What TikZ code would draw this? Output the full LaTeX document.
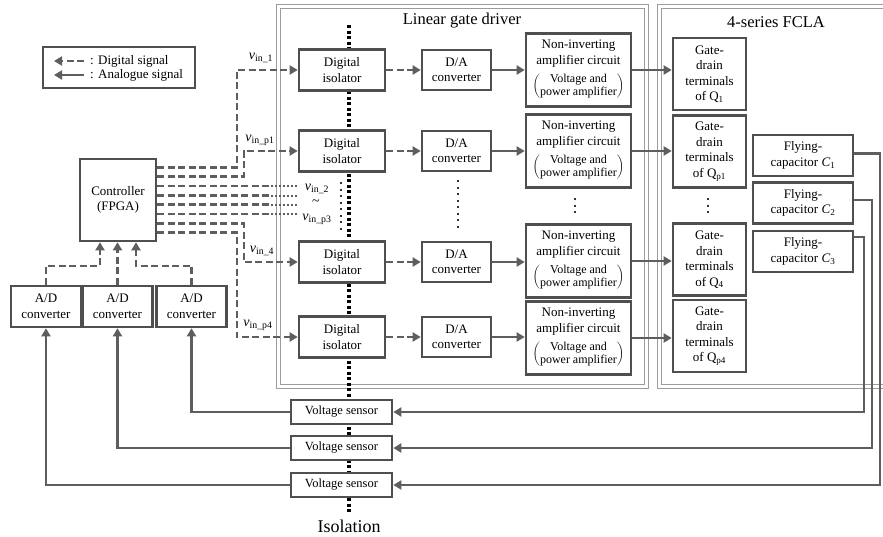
\documentclass[tikz,border=0pt]{standalone}
\usepackage{fontspec}
\setmainfont{Liberation Serif}
\usetikzlibrary{arrows.meta}
\definecolor{linegray}{HTML}{5E5E5E}
\definecolor{boxgray}{HTML}{4F4F4F}
\definecolor{framegray}{HTML}{9C9C9C}
\tikzset{
  blk/.style={draw=boxgray,line width=2.6pt,fill=white,align=center,inner sep=0pt,
    font=\fontsize{13}{15.5}\selectfont},
  dig/.style={draw=linegray,line width=2.3pt,dash pattern=on 7pt off 3.5pt,
    -{Triangle[length=8pt,width=9pt]}},
  ana/.style={draw=linegray,line width=2.3pt,-{Triangle[length=8pt,width=9pt]}},
  frame/.style={draw=framegray,double,double distance=2.4pt,line width=1pt},
  isoline/.style={line width=4pt,dash pattern=on 3pt off 2.5pt},
  ellip/.style={draw=black!80,line width=2pt,dash pattern=on 2pt off 4.5pt},
  fine/.style={draw=linegray,line width=2pt,dash pattern=on 1.5pt off 2.5pt},
  lbl/.style={inner sep=0pt,font=\fontsize{14}{14}\selectfont}
}
\newcommand{\ampbox}{Non-inverting\\amplifier circuit\\[4.5pt]
  {\fontsize{12}{13.5}\selectfont$\biggl(\begin{tabular}{@{}c@{}}Voltage and\\power amplifier\end{tabular}\biggr)$}}
\begin{document}
\begin{tikzpicture}[x=1pt,y=-1pt]
\useasboundingbox (0,0) rectangle (883,536);
% outer frames
\draw[frame] (278.5,6.5) rectangle (646.5,386.5);
\draw[frame] (659.5,6.5) rectangle (892,386.5);
\node[font=\fontsize{16.5}{17}\selectfont] (lgd) at (462,21) {Linear gate driver};
\node[font=\fontsize{16.5}{17}\selectfont] (fcla) at (776,22) {4-series FCLA};
% isolation barrier
\draw[isoline] (349,25) -- (349,514);
\node[font=\fontsize{18}{18}\selectfont] (isol) at (349,526) {Isolation};
% legend
\node[blk,minimum width=152pt,minimum height=41pt] (legend) at (119,67.5) {};
\node[anchor=west,inner sep=1pt,font=\fontsize{13}{13}\selectfont] (txd) at (89,61) {: Digital signal};
\node[anchor=west,inner sep=1pt,font=\fontsize{13}{13}\selectfont] (txa) at (89,75) {: Analogue signal};
\draw[dig] ([xshift=-5pt]txd.west) -- ++(-30,0);
\draw[ana] ([xshift=-5pt]txa.west) -- ++(-30,0);
% controller and A/D converters
\node[blk,minimum width=76pt,minimum height=82pt] (ctrl) at (118,200) {Controller\\(FPGA)};
\node[blk,minimum width=70pt,minimum height=41pt] (ad1) at (46,306.5) {A/D\\converter};
\node[blk,minimum width=70pt,minimum height=41pt] (ad2) at (117.5,306.5) {A/D\\converter};
\node[blk,minimum width=70pt,minimum height=41pt] (ad3) at (191.5,306.5) {A/D\\converter};
% digital isolators
\node[blk,minimum width=86pt,minimum height=41pt] (iso1) at (342,70) {Digital\\isolator};
\node[blk,minimum width=86pt,minimum height=41pt] (iso2) at (342,151) {Digital\\isolator};
\node[blk,minimum width=86pt,minimum height=41pt] (iso3) at (342,262) {Digital\\isolator};
\node[blk,minimum width=86pt,minimum height=41pt] (iso4) at (342,337) {Digital\\isolator};
% D/A converters
\node[blk,minimum width=69pt,minimum height=40pt] (da1) at (456.5,70) {D/A\\converter};
\node[blk,minimum width=69pt,minimum height=40pt] (da2) at (456.5,151) {D/A\\converter};
\node[blk,minimum width=69pt,minimum height=40pt] (da3) at (456.5,262) {D/A\\converter};
\node[blk,minimum width=69pt,minimum height=40pt] (da4) at (456.5,337) {D/A\\converter};
% amplifiers
\node[blk,minimum width=105pt,minimum height=73pt] (amp1) at (578.5,70) {\ampbox};
\node[blk,minimum width=105pt,minimum height=73pt] (amp2) at (578.5,151) {\ampbox};
\node[blk,minimum width=105pt,minimum height=73pt] (amp3) at (578.5,261) {\ampbox};
\node[blk,minimum width=105pt,minimum height=73pt] (amp4) at (578.5,338) {\ampbox};
% gate-drain terminals
\node[blk,minimum width=73pt,minimum height=72pt] (gd1) at (709.5,74) {Gate-\\drain\\terminals\\of Q\textsubscript{1}};
\node[blk,minimum width=73pt,minimum height=72pt] (gd2) at (709.5,151.5) {Gate-\\drain\\terminals\\of Q\textsubscript{p1}};
\node[blk,minimum width=73pt,minimum height=72pt] (gd3) at (709.5,259.5) {Gate-\\drain\\terminals\\of Q\textsubscript{4}};
\node[blk,minimum width=73pt,minimum height=72pt] (gd4) at (709.5,336) {Gate-\\drain\\terminals\\of Q\textsubscript{p4}};
% flying capacitors
\node[blk,minimum width=100pt,minimum height=41pt] (fc1) at (803,155.5) {Flying-\\capacitor \textit{C}\textsubscript{1}};
\node[blk,minimum width=100pt,minimum height=41pt] (fc2) at (803,203) {Flying-\\capacitor \textit{C}\textsubscript{2}};
\node[blk,minimum width=100pt,minimum height=41pt] (fc3) at (803,251.5) {Flying-\\capacitor \textit{C}\textsubscript{3}};
% voltage sensors
\node[blk,minimum width=101pt,minimum height=24pt,font=\fontsize{12.5}{13}\selectfont] (vs1) at (341.5,412) {Voltage sensor};
\node[blk,minimum width=101pt,minimum height=24pt,font=\fontsize{12.5}{13}\selectfont] (vs2) at (341.5,448) {Voltage sensor};
\node[blk,minimum width=101pt,minimum height=24pt,font=\fontsize{12.5}{13}\selectfont] (vs3) at (341.5,485) {Voltage sensor};
% controller outputs
\draw[dig] ([yshift=32.5pt]ctrl.east) -| ([xshift=-61pt]iso1.west) -- (iso1.west);
\draw[dig] ([yshift=23.5pt]ctrl.east) -| ([xshift=-54pt]iso2.west) -- (iso2.west);
\draw[dig] ([yshift=-23.5pt]ctrl.east) -| ([xshift=-54pt]iso3.west) -- (iso3.west);
\draw[dig] ([yshift=-32.5pt]ctrl.east) -| ([xshift=-61pt]iso4.west) -- (iso4.west);
\draw[dig,-] ([yshift=14pt]ctrl.east) -- ++(114,0) coordinate (m1);
\draw[dig,-] ([yshift=4.5pt]ctrl.east) -- ++(114,0) coordinate (m2);
\draw[dig,-] ([yshift=-4.5pt]ctrl.east) -- ++(114,0) coordinate (m3);
\draw[dig,-] ([yshift=-14pt]ctrl.east) -- ++(114,0) coordinate (m4);
\draw[fine] (m1) -- ++(28,0);
\draw[fine] (m2) -- ++(28,0);
\draw[fine] (m3) -- ++(28,0);
\draw[fine] (m4) -- ++(28,0);
\node[lbl] (lv1) at (261,58) {\textit{v}\textsubscript{in\_1}};
\node[lbl] (lvp1) at (260,140) {\textit{v}\textsubscript{in\_p1}};
\node[lbl] (lv4) at (262,251) {\textit{v}\textsubscript{in\_4}};
\node[lbl] (lvp4) at (258,325) {\textit{v}\textsubscript{in\_p4}};
\node[lbl] (lv2) at (317,189) {\textit{v}\textsubscript{in\_2}};
\node[lbl] (ltil) at (316,203) {\textasciitilde};
\node[lbl] (lvp3) at (317,219) {\textit{v}\textsubscript{in\_p3}};
% ellipses
\draw[ellip] (341,182) -- (341,232);
\draw[ellip] (458,180) -- (458,229);
\draw[ellip] (575,198) -- (575,214);
\draw[ellip] (708,198) -- (708,214);
% signal chain
\draw[dig] (iso1.east) -- (da1.west);
\draw[dig] (iso2.east) -- (da2.west);
\draw[dig] (iso3.east) -- (da3.west);
\draw[dig] (iso4.east) -- (da4.west);
\draw[ana] (da1.east) -- (da1.east -| amp1.west);
\draw[ana] (da2.east) -- (da2.east -| amp2.west);
\draw[ana] (da3.east) -- (da3.east -| amp3.west);
\draw[ana] (da4.east) -- (da4.east -| amp4.west);
\draw[ana] (amp1.east) -- (amp1.east -| gd1.west);
\draw[ana] (amp2.east) -- (amp2.east -| gd2.west);
\draw[ana] (amp3.east) -- (amp3.east -| gd3.west);
\draw[ana] (amp4.east) -- (amp4.east -| gd4.west);
% feedback
\draw[ana] ([yshift=2pt]fc1.east) -- ++(26,0) |- (vs3.east);
\draw[ana] ([yshift=3pt]fc2.east) -- ++(18,0) |- (vs2.east);
\draw[ana] ([yshift=14.5pt]fc3.east) -- ++(10,0) |- (vs1.east);
\draw[ana] (vs1.west) -| (ad3.south);
\draw[ana] (vs2.west) -| (ad2.south);
\draw[ana] (vs3.west) -| (ad1.south);
\draw[dig] (ad1.north) -- ++(0,-19) -| ([xshift=-18pt]ctrl.south);
\draw[dig] (ad2.north) -- (ad2.north |- ctrl.south);
\draw[dig] (ad3.north) -- ++(0,-19) -| ([xshift=18pt]ctrl.south);
\end{tikzpicture}
\end{document}
